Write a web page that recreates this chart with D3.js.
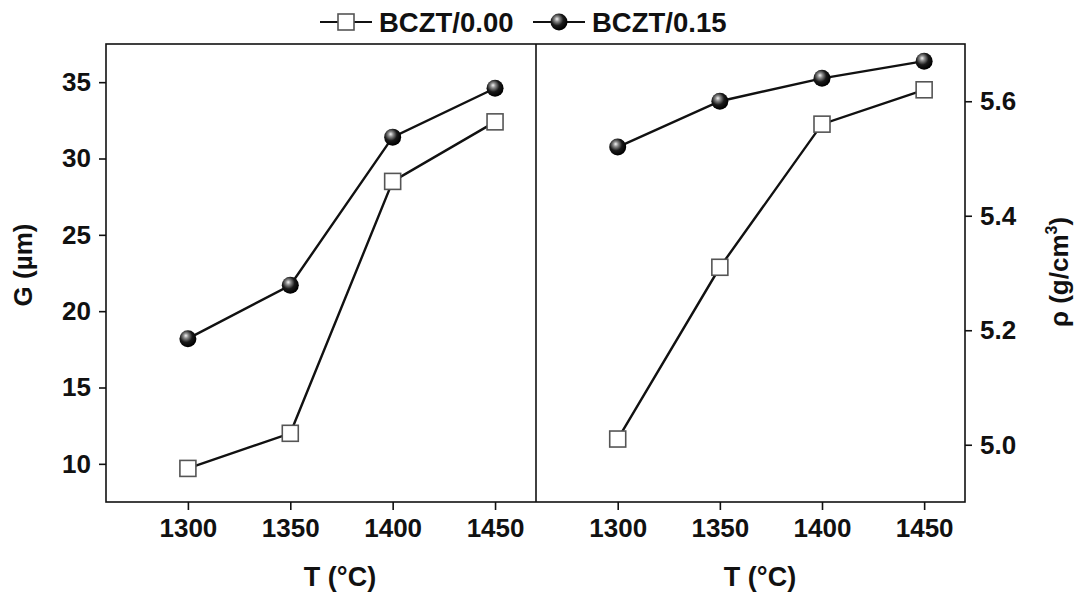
<!DOCTYPE html>
<html>
<head>
<meta charset="utf-8">
<script src="https://cdn.jsdelivr.net/npm/d3@7"></script>
<style>
  body { margin: 0; background: #fff; }
  svg text { font-family: "Liberation Sans", Arial, sans-serif; font-weight: bold; fill: #111; }
</style>
</head>
<body>
<div id="chart"></div>
<script>
(function () {
  'use strict';

  // ── Data ───────────────────────────────────────────────
  var temps = [1300, 1350, 1400, 1450];
  var grain000 = [9.7, 12.0, 28.5, 32.4];
  var grain015 = [18.2, 21.7, 31.4, 34.6];
  var dens000 = [5.01, 5.31, 5.56, 5.62];
  var dens015 = [5.52, 5.60, 5.64, 5.67];
  var gTicks = [10, 15, 20, 25, 30, 35];
  var rhoTicks = [5.0, 5.2, 5.4, 5.6];
  var seriesNames = ['BCZT/0.00', 'BCZT/0.15'];

  var W = 1077, H = 593;
  var top = 44, bottom = 502, left = 106, mid = 536, right = 965;
  var fs = 26;

  var svg = d3.select('#chart').append('svg')
    .attr('width', W).attr('height', H);

  var grad = svg.append('defs').append('radialGradient')
    .attr('id', 'ball').attr('cx', '40%').attr('cy', '38%').attr('r', '60%')
    .attr('fx', '38%').attr('fy', '32%');
  grad.append('stop').attr('offset', '0%').attr('stop-color', '#f4f4f4');
  grad.append('stop').attr('offset', '25%').attr('stop-color', '#8a8a8a');
  grad.append('stop').attr('offset', '60%').attr('stop-color', '#1a1a1a');
  grad.append('stop').attr('offset', '100%').attr('stop-color', '#000');

  var xL = d3.scaleLinear().domain([1260, 1470]).range([left, mid]);
  var xR = d3.scaleLinear().domain([1260, 1470]).range([mid, right]);
  var yG = d3.scaleLinear().domain([7.5, 37.5]).range([bottom, top]);
  var yR = d3.scaleLinear().domain([4.9, 5.7]).range([bottom, top]);

  // frames
  svg.append('rect').attr('x', left).attr('y', top)
    .attr('width', right - left).attr('height', bottom - top)
    .attr('fill', 'none').attr('stroke', '#111').attr('stroke-width', 1.6);
  svg.append('line').attr('x1', mid).attr('x2', mid).attr('y1', top).attr('y2', bottom)
    .attr('stroke', '#111').attr('stroke-width', 1.6);

  function styleAxis(g) {
    g.select('.domain').remove();
    g.selectAll('.tick line').attr('stroke', '#111').attr('stroke-width', 1.6);
    g.selectAll('.tick text').style('font-size', fs + 'px').attr('fill', '#111');
  }

  svg.append('g').attr('transform', 'translate(' + left + ',0)')
    .call(d3.axisLeft(yG).tickValues(gTicks).tickSize(7).tickPadding(8))
    .call(styleAxis);
  svg.append('g').attr('transform', 'translate(' + right + ',0)')
    .call(d3.axisRight(yR).tickValues(rhoTicks).tickSize(7).tickPadding(8).tickFormat(d3.format('.1f')))
    .call(styleAxis);
  svg.append('g').attr('transform', 'translate(0,' + bottom + ')')
    .call(d3.axisBottom(xL).tickValues(temps).tickSize(8).tickPadding(9).tickFormat(d3.format('d')))
    .call(styleAxis);
  svg.append('g').attr('transform', 'translate(0,' + bottom + ')')
    .call(d3.axisBottom(xR).tickValues(temps).tickSize(8).tickPadding(9).tickFormat(d3.format('d')))
    .call(styleAxis);

  // axis titles
  svg.append('text').attr('x', 340).attr('y', 586).attr('text-anchor', 'middle')
    .style('font-size', '27px').text('T (°C)');
  svg.append('text').attr('x', 760).attr('y', 586).attr('text-anchor', 'middle')
    .style('font-size', '27px').text('T (°C)');
  svg.append('text').attr('transform', 'translate(32,265) rotate(-90)').attr('text-anchor', 'middle')
    .style('font-size', '26px').text('G (µm)');
  var rl = svg.append('text').attr('transform', 'translate(1068,272) rotate(-90)').attr('text-anchor', 'middle')
    .style('font-size', '26px');
  rl.append('tspan').text('ρ (g/cm');
  rl.append('tspan').attr('dy', -11).style('font-size', '16px').text('3');
  rl.append('tspan').attr('dy', 11).text(')');

  // series
  function drawSeries(x, y, vals, kind) {
    var pts = temps.map(function (t, i) { return [x(t), y(vals[i])]; });
    svg.append('path').attr('d', d3.line()(pts))
      .attr('fill', 'none').attr('stroke', '#111').attr('stroke-width', 2.4);
    pts.forEach(function (p) { marker(p[0], p[1], kind); });
  }

  function marker(cx, cy, kind) {
    if (kind === 'square') {
      svg.append('rect').attr('x', cx - 8).attr('y', cy - 8).attr('width', 16).attr('height', 16)
        .attr('fill', '#fff').attr('stroke', '#555').attr('stroke-width', 1.6);
    } else {
      svg.append('circle').attr('cx', cx).attr('cy', cy).attr('r', 8.5)
        .attr('fill', 'url(#ball)');
    }
  }

  drawSeries(xL, yG, grain000, 'square');
  drawSeries(xL, yG, grain015, 'ball');
  drawSeries(xR, yR, dens000, 'square');
  drawSeries(xR, yR, dens015, 'ball');

  // legend
  var legend = [
    { name: seriesNames[0], kind: 'square', x: 320 },
    { name: seriesNames[1], kind: 'ball', x: 533 }
  ];
  legend.forEach(function (d) {
    svg.append('line').attr('x1', d.x).attr('x2', d.x + 52).attr('y1', 22).attr('y2', 22)
      .attr('stroke', '#111').attr('stroke-width', 2);
    marker(d.x + 26, 22, d.kind);
    svg.append('text').attr('x', d.x + 59).attr('y', 32)
      .style('font-size', '27.5px').text(d.name);
  });
})();
</script>
</body>
</html>
